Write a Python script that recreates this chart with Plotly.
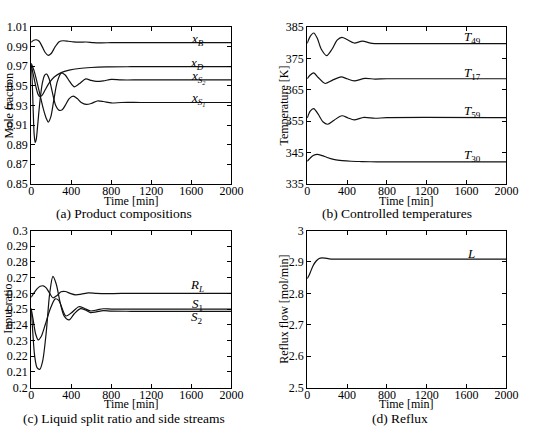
import plotly.graph_objects as go

# ---------------- data ----------------
# (a) Product compositions
t_xB = [0, 25, 50, 80, 110, 140, 170, 200, 240, 280, 320, 370, 420, 480, 550, 620, 700, 800, 1000, 1500, 2000]
v_xB = [0.9945, 0.9965, 0.997, 0.9955, 0.990, 0.984, 0.981, 0.983, 0.990, 0.9950, 0.9960, 0.9955, 0.9948, 0.9945, 0.9947, 0.9941, 0.9939, 0.9940, 0.9940, 0.9940, 0.9940]

t_xD = [0, 20, 45, 70, 90, 110, 140, 180, 230, 300, 380, 480, 600, 750, 1000, 2000]
v_xD = [0.971, 0.962, 0.950, 0.941, 0.939, 0.9405, 0.946, 0.953, 0.959, 0.9635, 0.966, 0.9677, 0.9687, 0.9693, 0.9695, 0.9695]

t_xS1 = [0, 10, 20, 30, 40, 50, 65, 85, 110, 135, 155, 180, 210, 245, 280, 310, 340, 380, 420, 460, 500, 550, 600, 660, 720, 800, 900, 1100, 2000]
v_xS1 = [0.972, 0.955, 0.925, 0.900, 0.892, 0.895, 0.910, 0.932, 0.952, 0.961, 0.962, 0.957, 0.944, 0.930, 0.925, 0.9255, 0.930, 0.937, 0.9395, 0.937, 0.933, 0.931, 0.932, 0.9345, 0.934, 0.9325, 0.933, 0.933, 0.933]

t_xS2 = [0, 30, 60, 90, 120, 150, 171, 195, 225, 260, 300, 340, 380, 430, 480, 545, 600, 650, 720, 800, 900, 1100, 2000]
v_xS2 = [0.973, 0.965, 0.953, 0.940, 0.927, 0.917, 0.913, 0.918, 0.935, 0.954, 0.963, 0.961, 0.955, 0.949, 0.952, 0.957, 0.9555, 0.9545, 0.955, 0.9565, 0.956, 0.956, 0.956]

# (b) Controlled temperatures
t_T49 = [0, 30, 65, 100, 140, 195, 250, 300, 348, 400, 471, 553, 650, 750, 900, 2000]
v_T49 = [379.8, 382.0, 383.1, 381.5, 378.0, 375.9, 378.0, 380.8, 381.7, 381.0, 379.9, 380.5, 379.8, 379.7, 379.7, 379.7]

t_T17 = [0, 30, 65, 110, 180, 250, 340, 400, 470, 580, 680, 800, 2000]
v_T17 = [368.5, 369.7, 370.4, 368.9, 367.0, 368.0, 369.1, 368.5, 367.8, 368.6, 368.4, 368.5, 368.5]

t_T59 = [0, 30, 65, 110, 160, 205, 270, 348, 410, 470, 570, 680, 800, 2000]
v_T59 = [356.0, 358.2, 359.0, 357.2, 354.7, 354.0, 355.3, 356.7, 356.0, 355.4, 356.2, 355.9, 356.1, 356.1]

t_T30 = [0, 30, 60, 100, 150, 200, 276, 350, 440, 550, 700, 900, 2000]
v_T30 = [342.2, 343.2, 344.0, 344.4, 344.0, 343.4, 342.7, 342.4, 342.2, 342.1, 342.0, 342.0, 342.0]

# (c) Liquid split ratio and side streams
t_RL = [0, 30, 60, 90, 120, 150, 185, 217, 255, 298, 340, 390, 443, 500, 573, 650, 750, 900, 2000]
v_RL = [0.2575, 0.2605, 0.263, 0.2645, 0.2648, 0.2635, 0.260, 0.2572, 0.2585, 0.2610, 0.2612, 0.2600, 0.2591, 0.2595, 0.2603, 0.2600, 0.2598, 0.2600, 0.2600]

t_S1 = [0, 20, 45, 71, 100, 140, 190, 240, 275, 346, 400, 476, 530, 590, 660, 720, 800, 1000, 2000]
v_S1 = [0.2503, 0.243, 0.234, 0.2304, 0.2325, 0.240, 0.250, 0.2565, 0.2555, 0.2456, 0.2475, 0.2515, 0.2505, 0.2488, 0.2495, 0.2502, 0.2500, 0.2500, 0.2500]

t_S2 = [0, 15, 35, 60, 87, 115, 150, 185, 217, 250, 290, 330, 379, 430, 492, 540, 590, 650, 720, 800, 1000, 2000]
v_S2 = [0.2503, 0.236, 0.220, 0.2125, 0.2117, 0.2170, 0.2350, 0.2600, 0.2708, 0.2660, 0.2540, 0.2455, 0.2431, 0.2470, 0.2503, 0.2495, 0.2478, 0.2482, 0.2490, 0.2487, 0.2486, 0.2486]

# (d) Reflux
t_L = [0, 15, 35, 60, 90, 120, 150, 180, 220, 280, 400, 600, 1000, 2000]
v_L = [2.847, 2.855, 2.870, 2.889, 2.903, 2.911, 2.913, 2.912, 2.910, 2.909, 2.909, 2.909, 2.909, 2.909]

x_ticks = [0, 400, 800, 1200, 1600, 2000]
y_ticks_a = [0.85, 0.87, 0.89, 0.91, 0.93, 0.95, 0.97, 0.99, 1.01]
y_ticks_b = [335, 345, 355, 365, 375, 385]
y_ticks_c = [0.2, 0.21, 0.22, 0.23, 0.24, 0.25, 0.26, 0.27, 0.28, 0.29, 0.3]
y_ticks_d = [2.5, 2.6, 2.7, 2.8, 2.9, 3]

captions = ["(a) Product compositions", "(b) Controlled temperatures",
            "(c) Liquid split ratio and side streams", "(d) Reflux"]
y_titles = ["Mole fraction", "Temperature [K]", "Input ratio", "Reflux flow [mol/min]"]
x_title = "Time [min]"

# ---------------- figure ----------------
W, H = 535, 434
SERIF = "Liberation Serif"
fig = go.Figure()

def line(t, v, ax):
    fig.add_trace(go.Scatter(x=t, y=v, mode="lines", xaxis="x" + ax, yaxis="y" + ax,
                             line=dict(color="#111", width=1.2, shape="spline", smoothing=0.8),
                             showlegend=False, hoverinfo="skip"))

line(t_xB, v_xB, ""); line(t_xD, v_xD, ""); line(t_xS1, v_xS1, ""); line(t_xS2, v_xS2, "")
line(t_T49, v_T49, "2"); line(t_T17, v_T17, "2"); line(t_T59, v_T59, "2"); line(t_T30, v_T30, "2")
line(t_RL, v_RL, "3"); line(t_S1, v_S1, "3"); line(t_S2, v_S2, "3")
line(t_L, v_L, "4")

def px_x(p): return p / W
def px_y(p): return 1 - p / H

dom_x_l = [px_x(29), px_x(235)]
dom_x_r = [px_x(313), px_x(518)]
dom_y_t = [px_y(182.7), px_y(20.7)]
dom_y_b = [px_y(393.3), px_y(231)]

tickfont = dict(family=SERIF, size=12, color="black")

def xaxis(dom, anchor):
    return dict(domain=dom, anchor=anchor, range=[0, 2000], tickvals=x_ticks,
                ticktext=[str(v) for v in x_ticks], ticks="inside", ticklen=4,
                tickcolor="black", showline=True, linecolor="black", linewidth=1,
                mirror="ticks", showgrid=False, zeroline=False, tickfont=tickfont,
                ticklabelstandoff=-4)

def yaxis(dom, anchor, rng, vals, fmt):
    return dict(domain=dom, anchor=anchor, range=rng, tickvals=vals,
                ticktext=[fmt(v) for v in vals], ticks="inside", ticklen=4,
                tickcolor="black", showline=True, linecolor="black", linewidth=1,
                mirror="ticks", showgrid=False, zeroline=False, tickfont=tickfont)

fig.update_layout(
    width=W, height=H, margin=dict(l=0, r=0, t=0, b=0),
    paper_bgcolor="white", plot_bgcolor="white",
    xaxis=xaxis(dom_x_l, "y"), yaxis=yaxis(dom_y_t, "x", [0.85, 1.01], y_ticks_a, lambda v: f"{v:.2f}"),
    xaxis2=xaxis(dom_x_r, "y2"), yaxis2=yaxis(dom_y_t, "x2", [335, 385], y_ticks_b, lambda v: f"{v:d}"),
    xaxis3=xaxis(dom_x_l, "y3"), yaxis3=yaxis(dom_y_b, "x3", [0.2, 0.3], y_ticks_c, lambda v: f"{v:g}"),
    xaxis4=xaxis(dom_x_r, "y4"), yaxis4=yaxis(dom_y_b, "x4", [2.5, 3.0], y_ticks_d, lambda v: f"{v:g}"),
)

ann = []
def text(x, y, s, size=12, angle=0):
    ann.append(dict(x=px_x(x), y=px_y(y), xref="paper", yref="paper", text=s, showarrow=False,
                    xanchor="center", yanchor="middle", textangle=angle,
                    font=dict(family=SERIF, size=size, color="black")))

# x titles
text(132, 200.5, x_title); text(415.5, 200.5, x_title)
text(132, 410.5, x_title); text(415.5, 410.5, x_title)
# y titles
text(6, 102, y_titles[0], angle=-90); text(289, 102, y_titles[1], angle=-90)
text(5, 312, y_titles[2], angle=-90); text(289, 312, y_titles[3], angle=-90)
# captions
text(124, 213, captions[0], size=13.5); text(405, 213, captions[1], size=13.5)
text(124, 425.5, captions[2], size=13.5); text(408, 425.5, captions[3], size=13.5)

def lab(ax, x, y, s):
    ann.append(dict(x=x, y=y, xref="x" + ax, yref="y" + ax, text=s, showarrow=False,
                    xanchor="center", yanchor="middle",
                    font=dict(family=SERIF, size=13, color="black")))

lab("", 1660, 0.9975, "<i>x<sub>B</sub></i>")
lab("", 1660, 0.9730, "<i>x<sub>D</sub></i>")
lab("", 1670, 0.9595, "<i>x<sub>S<sub>2</sub></sub></i>")
lab("", 1670, 0.9364, "<i>x<sub>S<sub>1</sub></sub></i>")
lab("2", 1660, 381.6, "<i>T</i><sub>49</sub>")
lab("2", 1660, 370.3, "<i>T</i><sub>17</sub>")
lab("2", 1660, 358.0, "<i>T</i><sub>59</sub>")
lab("2", 1660, 343.9, "<i>T</i><sub>30</sub>")
lab("3", 1660, 0.2651, "<i>R<sub>L</sub></i>")
lab("3", 1660, 0.2530, "<i>S</i><sub>1</sub>")
lab("3", 1660, 0.2445, "<i>S</i><sub>2</sub>")
lab("4", 1643, 2.928, "<i>L</i>")

fig.update_layout(annotations=ann)
fig.write_html("out.html")
